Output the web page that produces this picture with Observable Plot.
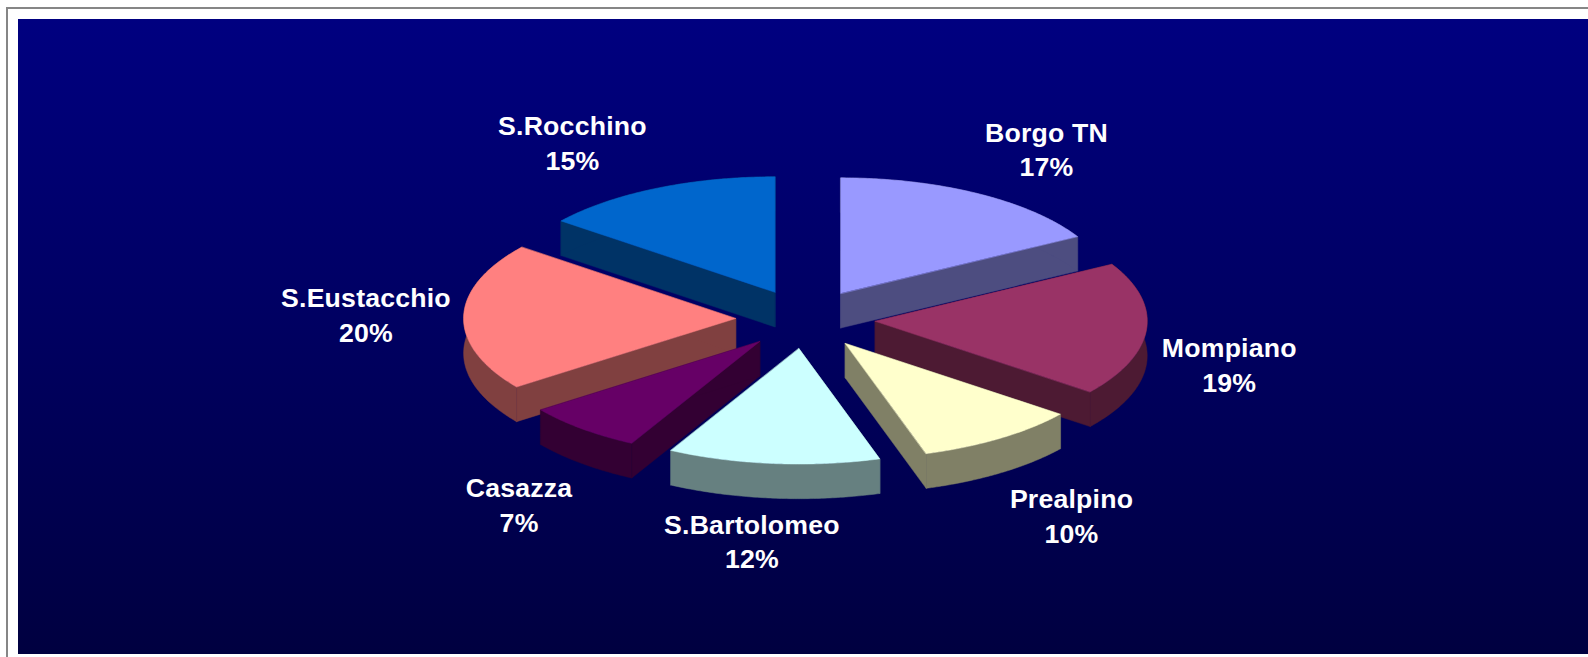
<!DOCTYPE html>
<html>
<head>
<meta charset="utf-8">
<script src="https://cdn.jsdelivr.net/npm/d3@7"></script>
<script src="https://cdn.jsdelivr.net/npm/@observablehq/plot@0.6"></script>
<style>
  html, body { margin: 0; padding: 0; background: #fff; overflow: hidden; }
  #page { position: relative; width: 1588px; height: 657px; }
  #frame { position: absolute; left: 6px; top: 7px; right: 0; bottom: 0; border-left: 2px solid #868686; border-top: 2px solid #868686; }
  #panel { position: absolute; left: 18px; top: 19px; right: 0; height: 635px;
           background: linear-gradient(to bottom, #000080 0%, #000040 100%); }
  #chart { position: absolute; left: 0; top: 0; }
  #chart svg { background: transparent; display: block; }
</style>
</head>
<body>
<div id="page">
  <div id="frame"></div>
  <div id="panel"></div>
  <div id="chart"></div>
</div>
<script>
// Data
const categories = ["Borgo TN", "Mompiano", "Prealpino", "S.Bartolomeo", "Casazza", "S.Eustacchio", "S.Rocchino"];
const percentLabels = [17, 19, 10, 12, 7, 20, 15];
// Share of the ellipse each slice visibly spans in the perspective drawing
const drawnShares = [16.8, 18.7, 9.7, 12.6, 7.1, 20.7, 14.4];
const topColors = ["#9999FF", "#993366", "#FFFFCC", "#CCFFFF", "#660066", "#FF8080", "#0066CC"];
const sideColors = ["#4D4D80", "#4D1A33", "#808066", "#668080", "#330033", "#804040", "#003366"];

// Pie layout, in pie units (radius = 1 along both axes)
const explode = 0.257;
const depth = 0.3;
const paintOrder = [6, 0, 5, 1, 4, 2, 3];
const labelPos = [[0.886, 1.482], [1.558, -0.386], [0.978, -1.688], [-0.197, -1.912], [-1.053, -1.593], [-1.616, 0.052], [-0.857, 1.54]];

let cumulative = 0;
const total = d3.sum(drawnShares);
const slices = categories.map((name, i) => {
  const a0 = (cumulative / total) * 2 * Math.PI;
  cumulative += drawnShares[i];
  const a1 = (cumulative / total) * 2 * Math.PI;
  const mid = (a0 + a1) / 2;
  const ox = explode * Math.sin(mid), oy = explode * Math.cos(mid);
  const n = Math.ceil((a1 - a0) / 0.01);
  const arc = d3.range(n + 1).map((k) => {
    const a = a0 + ((a1 - a0) * k) / n;
    return {x: ox + Math.sin(a), y: oy + Math.cos(a)};
  });
  const apex = {x: ox, y: oy};
  const lower = (p) => ({x: p.x, y: p.y - depth});
  const quad = (p, q) => [p, q, lower(q), lower(p)];
  const walls = [
    quad(apex, arc[0]),
    quad(arc[n], apex),
    [...arc, ...arc.map(lower).reverse()]
  ];
  return {outline: [apex, ...arc], walls, top: topColors[i], side: sideColors[i]};
});

const marks = [];
for (const i of paintOrder) {
  const s = slices[i];
  for (const wall of s.walls) {
    marks.push(Plot.line(wall, {x: "x", y: "y", fill: s.side, stroke: s.side, strokeWidth: 0.5, curve: "linear-closed"}));
  }
  marks.push(Plot.line(s.outline, {x: "x", y: "y", fill: s.top, stroke: s.top, strokeWidth: 0.5, curve: "linear-closed"}));
}
const labels = categories.map((name, i) => ({
  text: `${name}\n${percentLabels[i]}%`, x: labelPos[i][0], y: labelPos[i][1]
}));
marks.push(Plot.text(labels, {
  x: "x", y: "y", text: "text", fill: "#fff", fontWeight: "bold", fontSize: 26.67,
  fontFamily: "Liberation Sans", lineHeight: 1.31, textAnchor: "middle", lineAnchor: "middle"
}));

const plot = Plot.plot({
  width: 1588, height: 657, margin: 0,
  style: {background: "transparent", overflow: "visible", letterSpacing: "0.2px"},
  x: {domain: [-1, 1], range: [533, 1077], axis: null},
  y: {domain: [-1, 1], range: [434, 203], axis: null},
  marks
});
document.getElementById("chart").append(plot);
</script>
</body>
</html>
